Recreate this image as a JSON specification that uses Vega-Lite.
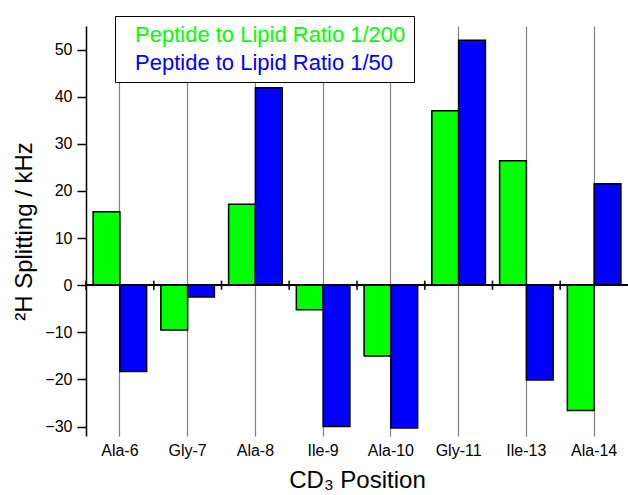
{
  "$schema": "https://vega.github.io/schema/vega-lite/v6.json",
  "width": 542,
  "height": 410,
  "autosize": {"type": "none"},
  "padding": {"left": 86, "top": 26, "right": 0, "bottom": 59},
  "background": "white",
  "config": {
    "font": "Liberation Sans",
    "view": {"stroke": null}
  },
  "data": {
    "values": [
      {"pos": "Ala-6", "ratio": "Peptide to Lipid Ratio 1/200", "value": 15.6},
      {"pos": "Ala-6", "ratio": "Peptide to Lipid Ratio 1/50", "value": -18.3},
      {"pos": "Gly-7", "ratio": "Peptide to Lipid Ratio 1/200", "value": -9.5},
      {"pos": "Gly-7", "ratio": "Peptide to Lipid Ratio 1/50", "value": -2.5},
      {"pos": "Ala-8", "ratio": "Peptide to Lipid Ratio 1/200", "value": 17.2},
      {"pos": "Ala-8", "ratio": "Peptide to Lipid Ratio 1/50", "value": 41.9},
      {"pos": "Ile-9", "ratio": "Peptide to Lipid Ratio 1/200", "value": -5.2},
      {"pos": "Ile-9", "ratio": "Peptide to Lipid Ratio 1/50", "value": -30.0},
      {"pos": "Ala-10", "ratio": "Peptide to Lipid Ratio 1/200", "value": -15.0},
      {"pos": "Ala-10", "ratio": "Peptide to Lipid Ratio 1/50", "value": -30.3},
      {"pos": "Gly-11", "ratio": "Peptide to Lipid Ratio 1/200", "value": 37.0},
      {"pos": "Gly-11", "ratio": "Peptide to Lipid Ratio 1/50", "value": 52.0},
      {"pos": "Ile-13", "ratio": "Peptide to Lipid Ratio 1/200", "value": 26.4},
      {"pos": "Ile-13", "ratio": "Peptide to Lipid Ratio 1/50", "value": -20.1},
      {"pos": "Ala-14", "ratio": "Peptide to Lipid Ratio 1/200", "value": -26.6},
      {"pos": "Ala-14", "ratio": "Peptide to Lipid Ratio 1/50", "value": 21.5}
    ]
  },
  "resolve": {"axis": {"y": "independent"}},
  "layer": [
    {
      "mark": {"type": "bar", "stroke": "black", "strokeWidth": 1.5},
      "encoding": {
        "x": {
          "field": "pos",
          "type": "nominal",
          "sort": ["Ala-6", "Gly-7", "Ala-8", "Ile-9", "Ala-10", "Gly-11", "Ile-13", "Ala-14"],
          "scale": {"paddingInner": 0, "paddingOuter": 0},
          "axis": {
            "orient": "bottom",
            "domain": false,
            "ticks": false,
            "labelAngle": 0,
            "labelFontSize": 16,
            "labelColor": "black",
            "labelPadding": 6,
            "grid": true,
            "gridColor": "#808080",
            "gridWidth": 1.2,
            "bandPosition": 0.5,
            "title": "CD₃ Position",
            "titleFontSize": 24,
            "titleFontWeight": "normal",
            "titleColor": "black",
            "titlePadding": 10
          }
        },
        "xOffset": {
          "field": "ratio",
          "type": "nominal",
          "scale": {"domain": ["Peptide to Lipid Ratio 1/200", "Peptide to Lipid Ratio 1/50"], "paddingInner": 0, "paddingOuter": 0.265}
        },
        "y": {
          "field": "value",
          "type": "quantitative",
          "scale": {"domain": [-32, 55], "nice": false},
          "axis": {
            "values": [-30, -20, -10, 0, 10, 20, 30, 40, 50],
            "grid": false,
            "domainColor": "black",
            "domainWidth": 1.5,
            "tickColor": "black",
            "tickWidth": 1.5,
            "tickSize": 9,
            "labelFontSize": 16,
            "labelColor": "black",
            "labelPadding": 5,
            "title": "²H Splitting / kHz",
            "titleFontSize": 24,
            "titleFontWeight": "normal",
            "titleColor": "black",
            "titlePadding": 8
          }
        },
        "color": {
          "field": "ratio",
          "type": "nominal",
          "scale": {"domain": ["Peptide to Lipid Ratio 1/200", "Peptide to Lipid Ratio 1/50"], "range": ["#00ff00", "#0000ff"]},
          "legend": {
            "orient": "none",
            "legendX": 29,
            "legendY": -10,
            "title": null,
            "fillColor": "white",
            "strokeColor": "black",
            "padding": 8,
            "symbolSize": 0,
            "symbolOpacity": 0,
            "symbolStrokeWidth": 0,
            "labelOffset": -10,
            "labelFontSize": 22,
            "labelLimit": 500,
            "rowPadding": 6,
            "labelColor": {"expr": "datum.value == 'Peptide to Lipid Ratio 1/200' ? '#00ff00' : '#0000ff'"}
          }
        }
      }
    },
    {
      "mark": {"type": "rule", "color": "black", "strokeWidth": 1.5},
      "encoding": {
        "y": {
          "datum": 0,
          "type": "quantitative",
          "axis": {
            "values": [-25, -15, -5, 5, 15, 25, 35, 45, 55],
            "labels": false,
            "domain": false,
            "grid": false,
            "tickColor": "black",
            "tickWidth": 1.5,
            "tickSize": 5,
            "title": null
          }
        }
      }
    },
    {
      "mark": {"type": "tick", "orient": "vertical", "color": "black", "size": 9, "thickness": 1.5},
      "encoding": {
        "x": {"field": "pos", "type": "nominal", "bandPosition": 0, "sort": ["Ala-6", "Gly-7", "Ala-8", "Ile-9", "Ala-10", "Gly-11", "Ile-13", "Ala-14"]},
        "y": {"datum": 0, "type": "quantitative", "axis": null}
      }
    }
  ]
}
